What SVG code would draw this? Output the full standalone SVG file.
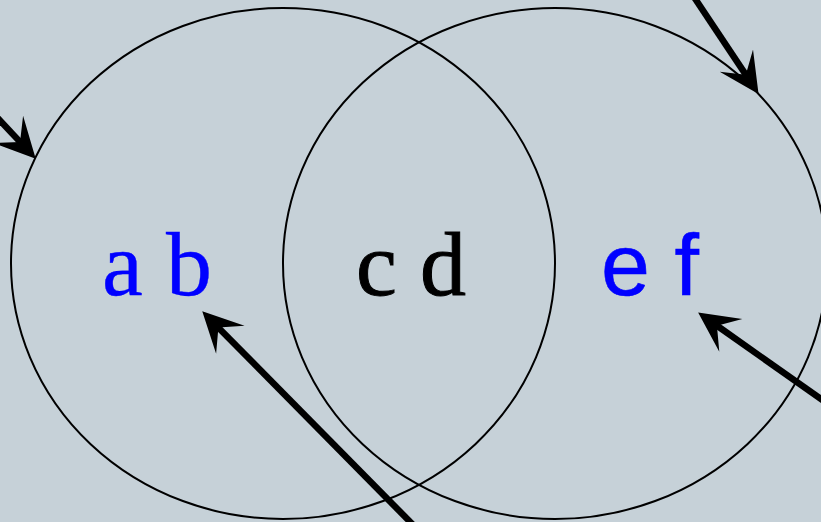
<svg xmlns="http://www.w3.org/2000/svg" width="821" height="522" viewBox="0 0 821 522">
<style>
.set{fill:none;stroke:#000;stroke-width:2}
.arr{stroke:#000;stroke-width:6.5;fill:none;marker-end:url(#head)}
.lbl{font-size:92px;text-anchor:middle}
.serif{font-family:"Liberation Serif","Times New Roman",serif}
.sans{font-family:"Liberation Sans",Arial,sans-serif;font-size:88px}
</style>
<defs>
<marker id="head" markerUnits="userSpaceOnUse" orient="auto" refX="0" refY="0" markerWidth="80" markerHeight="80" overflow="visible">
<path d="M21,0 L-19,-20 L-2,0 L-19,20 Z" fill="#000"/>
</marker>
</defs>
<rect width="821" height="522" fill="#c6d1d8"/>
<g id="setA"><ellipse class="set" cx="283" cy="263.5" rx="272" ry="255.5"/></g>
<g id="setB"><ellipse class="set" cx="555" cy="263.5" rx="272" ry="255.5"/></g>
<g id="labelAB"><text class="lbl serif" x="157" y="295" fill="#0000ff" stroke="#0000ff" stroke-width="0.4">a b</text></g>
<g id="labelCD"><text class="lbl serif" x="411" y="295" fill="#000" stroke="#000" stroke-width="1">c d</text></g>
<g id="labelEF"><text class="lbl sans" x="650" y="295" fill="#0000ff" stroke="#0000ff" stroke-width="0.6">e f</text></g>
<g id="connectors">
<line class="arr" x1="-60" y1="56" x2="21.4" y2="143.4"/>
<line class="arr" x1="680" y1="-24" x2="746.9" y2="76.4"/>
<line class="arr" x1="430" y1="542" x2="217" y2="326.2"/>
<line class="arr" x1="845" y1="416" x2="715.3" y2="324.5"/>
</g>
</svg>
